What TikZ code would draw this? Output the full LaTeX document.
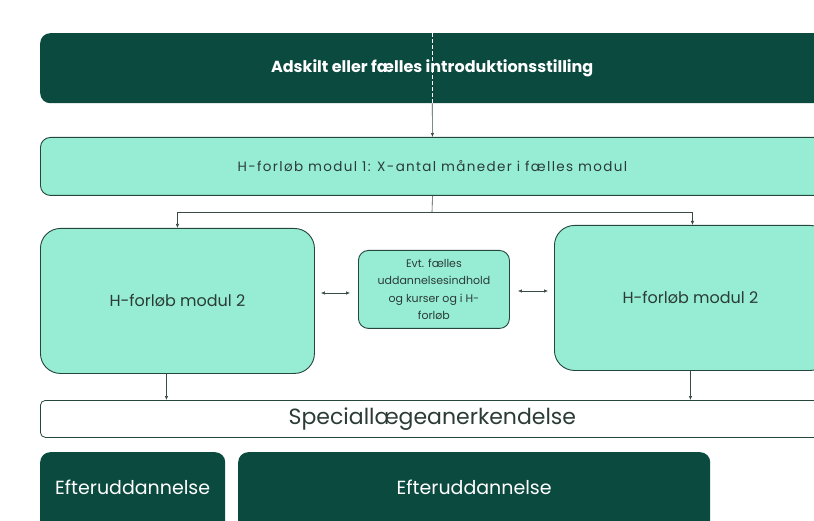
\documentclass[tikz,border=0pt]{standalone}
\usepackage{fontspec}
\setmainfont{Poppins}
\newfontfamily\widefont[LetterSpace=10]{Poppins}
\usetikzlibrary{arrows.meta}
\definecolor{deepgreen}{HTML}{0B4A3F}
\definecolor{mint}{HTML}{96EDD4}
\definecolor{edge}{HTML}{24463D}
\definecolor{ink}{HTML}{2B3B36}
\definecolor{wire}{HTML}{3A4A45}
\begin{document}
\begin{tikzpicture}[x=1pt,y=-1pt,
  darkbox/.style={fill=deepgreen, draw=none, rounded corners=10pt, text=white, anchor=north west, inner sep=0pt},
  mintbox/.style={fill=mint, draw=edge, line width=0.9pt, text=ink, anchor=north west, inner sep=0pt},
  whitebox/.style={fill=white, draw=edge, line width=0.8pt, rounded corners=5pt, text=ink, anchor=north west, inner sep=0pt},
  conn/.style={draw=wire, line width=0.6pt, -{Latex[length=4pt,width=3.5pt]}},
  biconn/.style={draw=wire, line width=0.6pt, {Latex[length=4pt,width=3.5pt]}-{Latex[length=4pt,width=3.5pt]}}
]
\useasboundingbox (0,0) rectangle (814,521);
\clip (0,0) rectangle (814,521);

% introduction row
\node[darkbox, minimum width=784pt, minimum height=70pt, font=\fontsize{16}{18}\selectfont\bfseries] (intro) at (40,33) {Adskilt eller fælles introduktionsstilling};
% first common module
\node[mintbox, rounded corners=10pt, minimum width=784pt, minimum height=58pt, font=\widefont\fontsize{13.5}{15}\selectfont] (mod1) at (40,137) {H-forløb modul 1: X-antal måneder i fælles modul};
% second modules and shared content
\node[mintbox, rounded corners=20pt, minimum width=274pt, minimum height=145pt, font=\fontsize{16}{18}\selectfont] (left) at (40,228) {H-forløb modul 2};
\node[mintbox, rounded corners=10pt, minimum width=151pt, minimum height=78pt, align=center, font=\fontsize{11}{17.5}\selectfont] (mid) at (358,250) {Evt. fælles\\uddannelsesindhold\\og kurser og i H-\\forløb};
\node[mintbox, rounded corners=20pt, minimum width=276pt, minimum height=145pt, font=\fontsize{16}{18}\selectfont] (right) at (554,225) {\hspace*{-4pt}H-forløb modul 2};
% recognition
\node[whitebox, minimum width=784pt, minimum height=37pt, font=\fontsize{22}{24}\selectfont] (spec) at (40,400) {Speciallægeanerkendelse};
% further training
\node[darkbox, minimum width=185pt, minimum height=85pt, font=\fontsize{19}{21}\selectfont] (efterA) at (40,452) {\raisebox{0pt}[0pt][0pt]{\makebox[0pt]{Efteruddannelse}}};
\node[darkbox, minimum width=472pt, minimum height=85pt, font=\fontsize{19}{21}\selectfont] (efterB) at (238,452) {\raisebox{0pt}[0pt][0pt]{\makebox[0pt]{Efteruddannelse}}};

% connectors
\draw[white, line width=1pt, dash pattern=on 4pt off 2pt] (intro.north) -- (intro.south);
\draw[conn] (intro.south) -- (mod1.north);
\coordinate (split) at (432,212);
\draw[wire, line width=0.6pt] (mod1.south) -- (split);
\draw[conn] (split) -| (left.north);
\draw[conn] (split) -| (right.north);
\draw[biconn] ([xshift=6pt]left.east |- 0,293) -- ([xshift=-8pt]mid.west |- 0,293);
\draw[biconn] ([xshift=8pt]mid.east |- 0,291) -- ([xshift=-6pt]right.west |- 0,291);
\draw[conn] ([xshift=-11pt]left.south) -- ([xshift=-11pt]left.south |- spec.north);
\draw[conn] ([xshift=-2pt]right.south) -- ([xshift=-2pt]right.south |- spec.north);
\end{tikzpicture}
\end{document}
